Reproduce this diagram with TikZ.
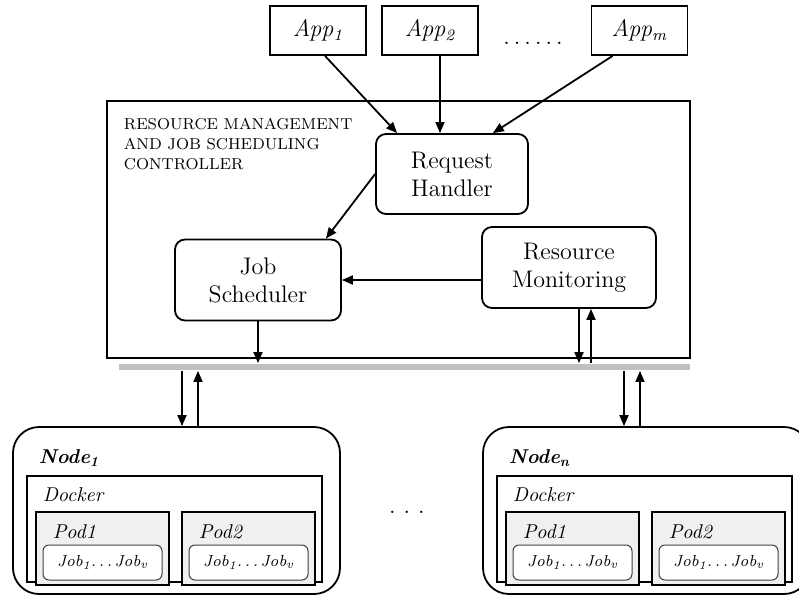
\documentclass[tikz,border=0pt]{standalone}
\usepackage{tikz}
\usetikzlibrary{positioning, arrows.meta, calc}
\definecolor{busGray}{RGB}{192, 192, 192}
\definecolor{podFill}{RGB}{240, 240, 240}

\begin{document}
\begin{tikzpicture}[x=0.5pt, y=-0.5pt, line width=0.9pt,
  >={Triangle[length=5.5pt, width=4.5pt]},
  every node/.style={align=center},
  appbox/.style={draw, minimum width=48pt, minimum height=24.5pt, font=\large\itshape},
  module/.style={draw, rounded corners=5pt, font=\large},
  hostbox/.style={draw, fill=white, rounded corners=13pt, minimum width=163.5pt, minimum height=83.5pt},
  dockerbox/.style={draw, minimum width=147.5pt, minimum height=53pt},
  podbox/.style={draw, fill=podFill, minimum width=66.5pt, minimum height=36.5pt},
  jobbox/.style={draw=black!75, fill=white, line width=0.5pt, rounded corners=3pt,
    minimum width=59.5pt, minimum height=17.5pt, font=\footnotesize\itshape},
  boxtitle/.style={anchor=west, inner sep=0pt}]
  \useasboundingbox (0,0) rectangle (799,596);
  \clip (0,0) rectangle (799,596);

  % applications
  \node[appbox] (app1) at (318,30.5) {App\textsubscript{1}};
  \node[appbox] (app2) at (430,30.5) {App\textsubscript{2}};
  \node[appbox] (appm) at (639.5,30.5) {App\textsubscript{m}};
  \node[anchor=base, font=\large] (appdots) at (533,44) {.\hspace{2pt}.\hspace{2pt}.\hspace{2pt}.\hspace{2pt}.\hspace{2pt}.};

  % controller
  \node[draw, minimum width=291.5pt, minimum height=128.5pt] (ctrl) at (398.5,229.5) {};
  \node[anchor=north west, align=left, inner sep=0pt, font=\fontsize{7.9}{10}\selectfont]
    (ctrltitle) at (123,117) {RESOURCE MANAGEMENT\\AND JOB SCHEDULING\\CONTROLLER};
  \node[module, minimum width=76pt, minimum height=40pt] (handler) at (452,174) {Request\\Handler};
  \node[module, minimum width=83pt, minimum height=40.5pt] (scheduler) at (258,280) {Job\\Scheduler};
  \node[module, minimum width=87pt, minimum height=40.5pt] (monitor) at (569,267.5) {Resource\\Monitoring};

  % bus
  \node[fill=busGray, inner sep=0pt, minimum width=285.5pt, minimum height=3pt] (bus) at (404.5,367) {};

  % requests
  \draw[->] ([xshift=3.5pt]app1.south) -- ([xshift=11pt]handler.north west);
  \coordinate (a2out) at ([xshift=5pt]app2.south);
  \draw[->] (a2out) -- (a2out |- handler.north);
  \draw[->] ([xshift=11pt]appm.south west) -- ([xshift=-18pt]handler.north east);

  % inside the controller
  \draw[->] (handler.west) -- ([xshift=-8pt]scheduler.north east);
  \draw[->] (monitor.west |- scheduler.east) -- (scheduler.east);
  \draw[->] (scheduler.south) -- (scheduler.south |- bus.north);
  \coordinate (mdown) at ([xshift=5pt]monitor.south);
  \coordinate (mup) at ([xshift=11pt]monitor.south);
  \draw[->] (mdown) -- (mdown |- bus.north);
  \draw[->] (mup |- bus.north) -- (mup);

  % worker nodes
  \foreach \dx/\sub in {0/1, 470/n} {
    \node[hostbox] (host\sub) at (176.5+\dx,510.5) {};
    \node[boxtitle, font=\bfseries\itshape] (hosttitle\sub) at (38+\dx,458) {Node\textsubscript{\sub}};
    \node[dockerbox] (docker\sub) at (174.5+\dx,529) {};
    \node[boxtitle, font=\itshape] (dockertitle\sub) at (42+\dx,495) {Docker};
    \node[podbox] (pod\sub-1) at (102.5+\dx,548.5) {};
    \node[podbox] (pod\sub-2) at (248.5+\dx,548.5) {};
    \node[boxtitle, font=\itshape] (podtitle\sub-1) at (52+\dx,532) {Pod1};
    \node[boxtitle, font=\itshape] (podtitle\sub-2) at (198+\dx,532) {Pod2};
    \node[jobbox] (jobs\sub-1) at (102.5+\dx,562.5) {Job\textsubscript{1}.\,.\,.\,Job\textsubscript{v}};
    \node[jobbox] (jobs\sub-2) at (248.5+\dx,562.5) {Job\textsubscript{1}.\,.\,.\,Job\textsubscript{v}};
  }
  \node[anchor=base, font=\large] (hostdots) at (407,513) {.\hspace{4pt}.\hspace{4pt}.};

  % bus to nodes
  \coordinate (h1dn) at ([xshift=2.75pt]host1.north);
  \coordinate (h1up) at ([xshift=10.75pt]host1.north);
  \coordinate (hndn) at ([xshift=-11.25pt]hostn.north);
  \coordinate (hnup) at ([xshift=-3.25pt]hostn.north);
  \draw[->] (h1dn |- bus.south) -- (h1dn);
  \draw[->] (h1up) -- (h1up |- bus.south);
  \draw[->] (hndn |- bus.south) -- (hndn);
  \draw[->] (hnup) -- (hnup |- bus.south);
\end{tikzpicture}
\end{document}
